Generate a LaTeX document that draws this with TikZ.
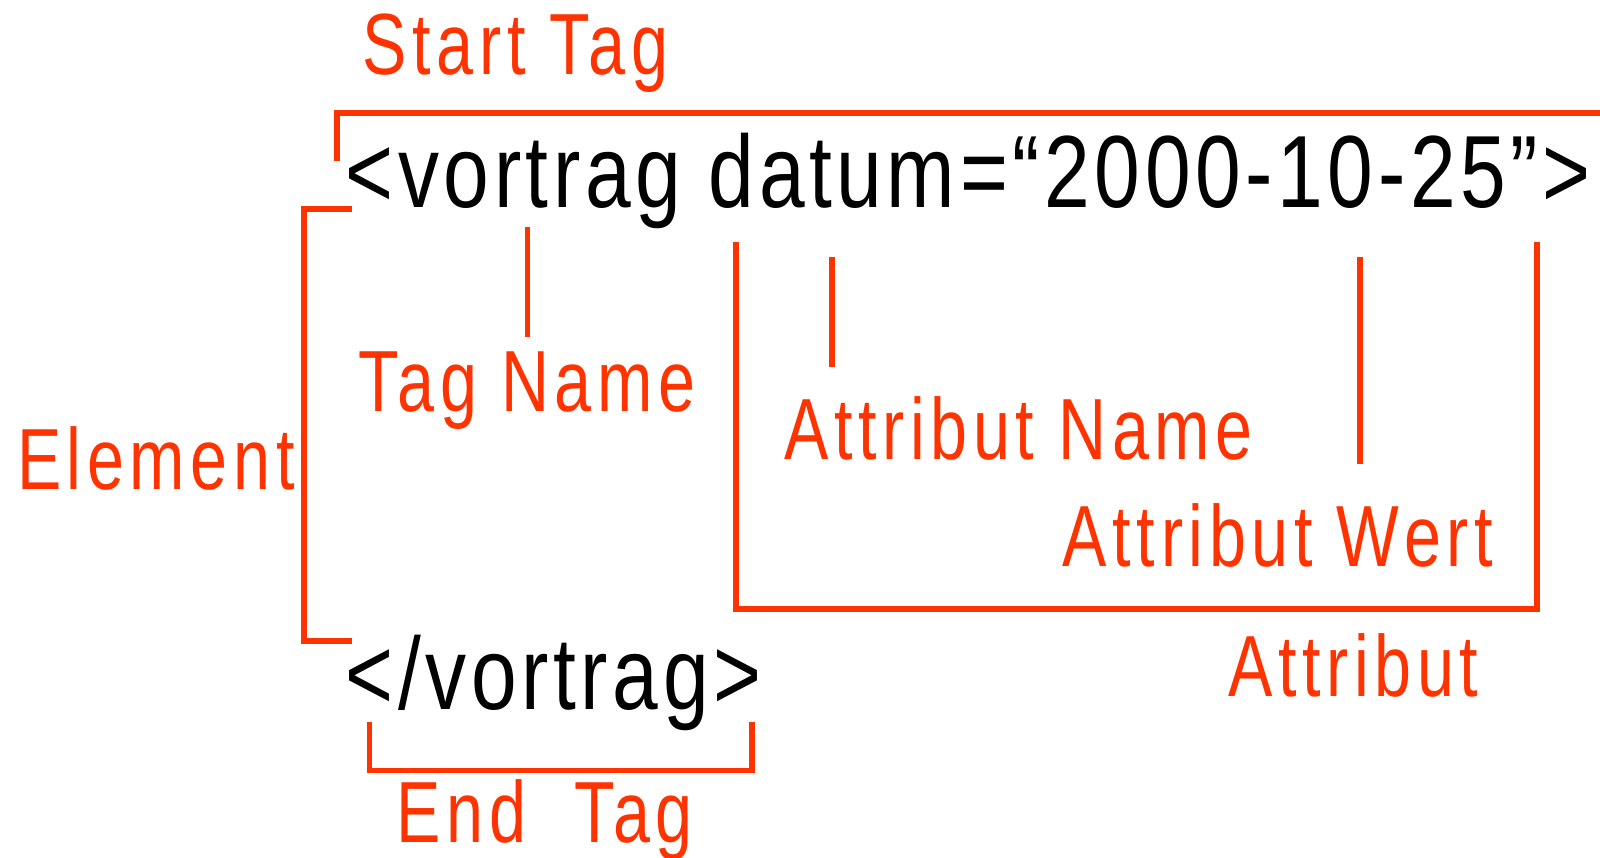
\documentclass[tikz,border=0pt]{standalone}
\usepackage{fontspec}
\newfontfamily\orfont[FakeStretch=0.765,LetterSpace=6.5]{Liberation Sans}
\newfontfamily\blfont[FakeStretch=0.80,LetterSpace=4.5]{Liberation Sans}
\definecolor{tagred}{RGB}{255,51,0}
\begin{document}
\begin{tikzpicture}[x=0.01cm,y=-0.01cm,
  lbl/.style={anchor=base west,inner sep=0pt,text=tagred,font=\orfont\fontsize{24.2pt}{29pt}\selectfont},
  code/.style={anchor=base west,inner sep=0pt,text=black,font=\blfont\fontsize{28.6pt}{34pt}\selectfont},
  brk/.style={draw=tagred,line width=1.6pt,miter limit=10}]
\useasboundingbox (0,0) rectangle (1568,840);
% texts
\node[lbl] (starttag) at (355,73) {Start Tag};
\node[code] (open) at (338,203) {<vortrag datum=“2000-10-25”>};
\node[lbl] (element) at (16,480) {Element};
\node[lbl] (tagname) at (351,403) {Tag Name};
\node[lbl] (attrname) at (768,450) {Attribut Name};
\node[lbl] (attrwert) at (1041,555) {Attribut Wert};
\node[lbl] (attribut) at (1203,683) {Attribut};
\node[code] (close) at (338,695) {</vortrag>};
\node[lbl] (endtag) at (388,826) {End\ \ Tag};
% brackets
\draw[brk] (330,158) -- (330,111) -- (1580,111);
\draw[brk] (345,205) -- (298,205) -- (298,628) -- (345,628);
\draw[brk] (721,237) -- (721,597) -- (1506,597) -- (1506,237);
\draw[brk] (362,708) -- (362,755) -- (737,755) -- (737,708);
% pointer lines
\draw[brk] (517,222) -- (517,330);
\draw[brk] (815,252) -- (815,360);
\draw[brk] (1333,252) -- (1333,455);
\end{tikzpicture}
\end{document}
